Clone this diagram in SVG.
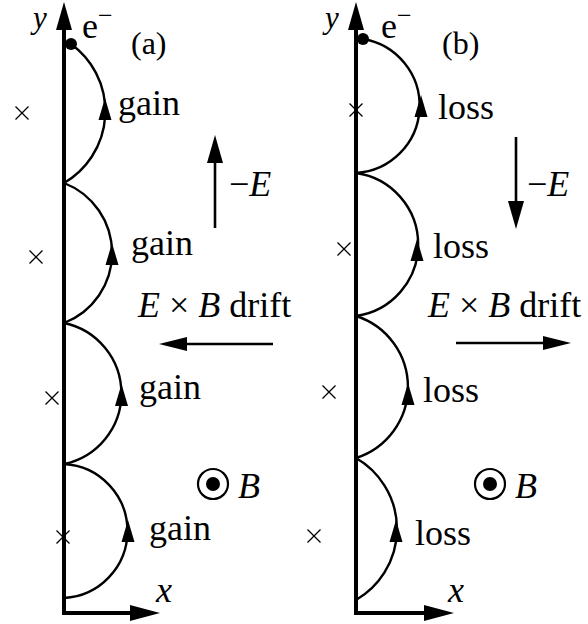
<svg xmlns="http://www.w3.org/2000/svg" xmlns:xlink="http://www.w3.org/1999/xlink" width="588" height="624" viewBox="0 0 588 624">
<style>
  text { font-family: "Liberation Serif", "Times New Roman", serif; font-size: 36px; fill: #000; }
  .it { font-style: italic; }
  .panel { font-size: 32px; }
  .ax { font-size: 31px; }
  .sup { font-size: 26px; }
  .axis { fill: none; stroke: #000; stroke-width: 4; stroke-linejoin: miter; }
  .orbit { fill: none; stroke: #000; stroke-width: 2.4; }
  .shaft { fill: none; stroke: #000; stroke-width: 2.6; }
  .cross { fill: none; stroke: #000; stroke-width: 1.3; }
  .head { fill: #000; stroke: none; }
</style>
<defs>
  <path id="ah" d="M0,-13 L6.5,9 L-6.5,9 Z" class="head"/>
  <path id="x" d="M-6.5,-6.5 L6.5,6.5 M-6.5,6.5 L6.5,-6.5" class="cross"/>
</defs>

<g id="panel-a">
  <g id="axes-a">
    <path class="axis" d="M64,28 V613 H132"/>
    <polygon class="head" points="64,2 56,30 72,30"/>
    <polygon class="head" points="160,613 130,605 130,621"/>
    <text class="it ax" x="33" y="28">y</text>
    <text class="it" x="156" y="602">x</text>
  </g>
  <g id="electron-a">
    <circle cx="71" cy="44" r="6" fill="#000"/>
    <text x="82" y="38">e<tspan class="sup" dy="-14">−</tspan></text>
  </g>
  <text id="label-a" class="panel" x="131" y="54">(a)</text>
  <g id="orbit-a">
    <path class="orbit" d="M71,44 A83,83 0 0 1 64,183"/>
    <path class="orbit" d="M64,183 A75,75 0 0 1 64,323"/>
    <path class="orbit" d="M64,323 A72,72 0 0 1 64,464"/>
    <path class="orbit" d="M64,464 A67.1,67.1 0 0 1 64,598"/>
    <use xlink:href="#ah" href="#ah" x="105" y="111"/>
    <use xlink:href="#ah" href="#ah" x="112" y="256"/>
    <use xlink:href="#ah" href="#ah" x="121.5" y="397"/>
    <use xlink:href="#ah" href="#ah" x="128" y="533"/>
    <use xlink:href="#x" href="#x" x="22" y="113"/>
    <use xlink:href="#x" href="#x" x="36" y="257"/>
    <use xlink:href="#x" href="#x" x="52" y="398"/>
    <use xlink:href="#x" href="#x" x="63" y="537"/>
    <text x="118" y="115">gain</text>
    <text x="131" y="255">gain</text>
    <text x="139" y="399">gain</text>
    <text x="149" y="540">gain</text>
  </g>
  <g id="field-a">
    <line class="shaft" x1="215" y1="228" x2="215" y2="160"/>
    <polygon class="head" points="215,135 207,163 223,163"/>
    <text x="229" y="196">−<tspan class="it">E</tspan></text>
  </g>
  <g id="drift-a">
    <text x="138" y="317"><tspan class="it">E</tspan> × <tspan class="it">B</tspan> drift</text>
    <line class="shaft" x1="273" y1="344" x2="185" y2="344"/>
    <polygon class="head" points="159,344 187,337 187,351"/>
  </g>
  <g id="bfield-a">
    <circle cx="213" cy="484" r="15" fill="none" stroke="#000" stroke-width="2.2"/>
    <circle cx="213" cy="484" r="7" fill="#000"/>
    <text class="it" x="238" y="498">B</text>
  </g>
</g>

<g id="panel-b">
  <g id="axes-b">
    <path class="axis" d="M356,28 V613 H426"/>
    <polygon class="head" points="356,2 348,30 364,30"/>
    <polygon class="head" points="454,613 424,605 424,621"/>
    <text class="it ax" x="325" y="28">y</text>
    <text class="it" x="448" y="602">x</text>
  </g>
  <g id="electron-b">
    <circle cx="363" cy="39" r="6" fill="#000"/>
    <text x="381" y="38">e<tspan class="sup" dy="-14">−</tspan></text>
  </g>
  <text id="label-b" class="panel" x="442" y="54">(b)</text>
  <g id="orbit-b">
    <path class="orbit" d="M363,39 A67.5,67.5 0 0 1 356,173"/>
    <path class="orbit" d="M356,173 A72.2,72.2 0 0 1 356,316"/>
    <path class="orbit" d="M356,316 A74.5,74.5 0 0 1 356,458"/>
    <path class="orbit" d="M356,458 A82,82 0 0 1 356,600"/>
    <use xlink:href="#ah" href="#ah" x="421" y="108"/>
    <use xlink:href="#ah" href="#ah" x="417" y="252"/>
    <use xlink:href="#ah" href="#ah" x="408" y="396"/>
    <use xlink:href="#ah" href="#ah" x="396" y="533"/>
    <use xlink:href="#x" href="#x" x="356" y="110"/>
    <use xlink:href="#x" href="#x" x="344" y="249"/>
    <use xlink:href="#x" href="#x" x="329" y="392"/>
    <use xlink:href="#x" href="#x" x="314" y="536"/>
    <text x="438" y="119">loss</text>
    <text x="433" y="258">loss</text>
    <text x="423" y="402">loss</text>
    <text x="415" y="545">loss</text>
  </g>
  <g id="field-b">
    <line class="shaft" x1="516" y1="137" x2="516" y2="203"/>
    <polygon class="head" points="516,229 508,201 524,201"/>
    <text x="527" y="196">−<tspan class="it">E</tspan></text>
  </g>
  <g id="drift-b">
    <text x="428" y="317"><tspan class="it">E</tspan> × <tspan class="it">B</tspan> drift</text>
    <line class="shaft" x1="456" y1="343" x2="545" y2="343"/>
    <polygon class="head" points="571,343 543,336 543,350"/>
  </g>
  <g id="bfield-b">
    <circle cx="490" cy="484" r="15" fill="none" stroke="#000" stroke-width="2.2"/>
    <circle cx="490" cy="484" r="7" fill="#000"/>
    <text class="it" x="515" y="498">B</text>
  </g>
</g>
</svg>
